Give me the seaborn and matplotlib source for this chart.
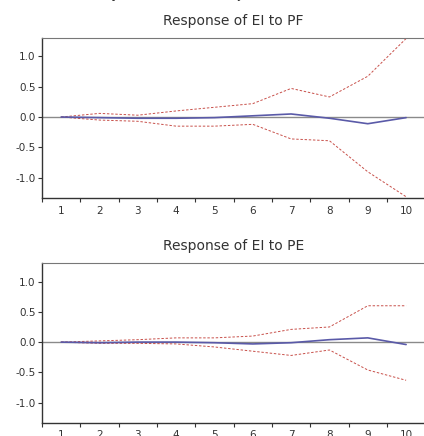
import numpy as np
import pandas as pd
import matplotlib.pyplot as plt
import seaborn as sns

periods = list(range(1, 11))

# Response of EI to PF
pf_resp = [0.0, -0.01, -0.02, -0.02, -0.01, 0.02, 0.05, -0.02, -0.11, -0.01]
pf_upper = [0.0, 0.06, 0.03, 0.10, 0.16, 0.22, 0.47, 0.33, 0.67, 1.29]
pf_lower = [0.0, -0.05, -0.07, -0.15, -0.15, -0.12, -0.36, -0.39, -0.90, -1.31]

# Response of EI to PE
pe_resp = [0.0, -0.01, 0.0, 0.0, -0.01, -0.03, -0.01, 0.04, 0.07, -0.04]
pe_upper = [0.0, 0.02, 0.04, 0.07, 0.07, 0.10, 0.21, 0.25, 0.60, 0.60]
pe_lower = [0.0, -0.02, -0.02, -0.03, -0.08, -0.15, -0.22, -0.13, -0.46, -0.63]

y_ticks = [-1.0, -0.5, 0.0, 0.5, 1.0]

sns.set_style("white")
plt.rcParams["font.family"] = ["DejaVu Sans"]

fig = plt.figure(figsize=(4.24, 4.36), dpi=100)
ax1 = fig.add_axes([0.099, 0.546, 0.904, 0.367])
ax2 = fig.add_axes([0.099, 0.0305, 0.904, 0.3655])

fig.text(0.47, 1.004, "Response to Cholesky One S.D. (d.f. adjusted) Innovations \u00b1 2 S.E.",
         ha="center", va="baseline", fontsize=10, color="#333333")


def draw_panel(ax, title, resp, upper, lower):
    df = pd.DataFrame({"period": periods, "resp": resp, "upper": upper, "lower": lower})
    ax.axhline(0, color="#8a8a8a", lw=1.0, zorder=1)
    sns.lineplot(data=df, x="period", y="upper", ax=ax, color="#c8504a",
                 lw=0.7, linestyle=(0, (2.5, 1.8)), zorder=2)
    sns.lineplot(data=df, x="period", y="lower", ax=ax, color="#c8504a",
                 lw=0.7, linestyle=(0, (2.5, 1.8)), zorder=2)
    sns.lineplot(data=df, x="period", y="resp", ax=ax, color="#5a5aa8",
                 lw=1.2, zorder=3)
    ax.set_xlim(0.5, 10.5)
    ax.set_ylim(-1.33, 1.30)
    ax.set_xlabel("")
    ax.set_ylabel("")
    ax.set_title(title, fontsize=10, color="#333333", pad=9.5)
    ax.set_yticks(y_ticks)
    ax.set_yticklabels([f"{v:.1f}" for v in y_ticks])
    ax.set_xticks(periods)
    ax.set_xticks([p - 0.5 for p in periods], minor=True)
    ax.tick_params(axis="x", which="major", length=0, pad=5.5, labelsize=7.5, colors="#333333")
    ax.tick_params(axis="x", which="minor", bottom=True, length=3, width=0.8, color="#333333", direction="out")
    ax.tick_params(axis="y", left=True, length=3, width=0.8, pad=1.5, labelsize=7.5,
                   colors="#333333", direction="out")
    for side in ["top", "right"]:
        ax.spines[side].set_color("#777777")
        ax.spines[side].set_linewidth(0.8)
    for side in ["left", "bottom"]:
        ax.spines[side].set_color("#333333")
        ax.spines[side].set_linewidth(1.0)


draw_panel(ax1, "Response of EI to PF", pf_resp, pf_upper, pf_lower)
draw_panel(ax2, "Response of EI to PE", pe_resp, pe_upper, pe_lower)

fig.savefig("out.png", dpi=100)
